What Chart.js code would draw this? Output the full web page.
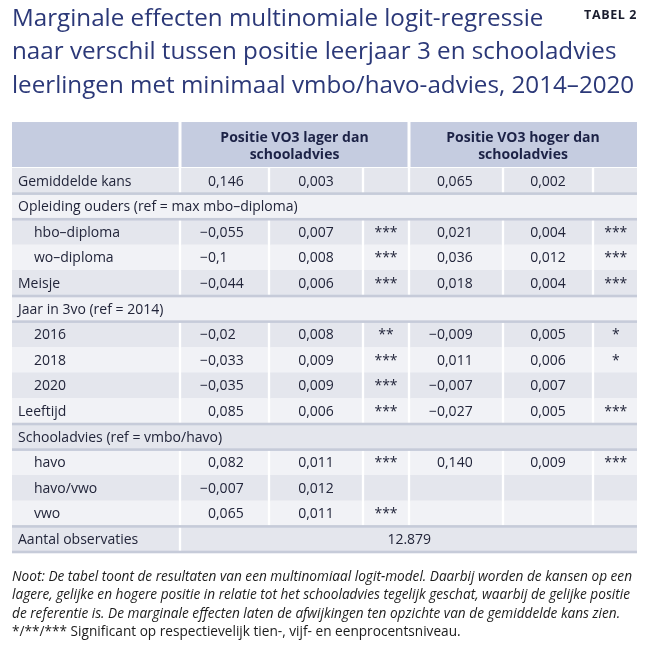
<!DOCTYPE html>
<html>
<head>
<meta charset="utf-8">
<script src="https://cdn.jsdelivr.net/npm/chart.js@4.4.1/dist/chart.umd.min.js"></script>
<style>
html,body{margin:0;padding:0;background:#fff;}
#wrap{width:650px;height:650px;position:relative;}
</style>
</head>
<body>
<div id="wrap"><canvas id="c"></canvas></div>
<script>
// ---------- text & data ----------
const titleLines = [
  'Marginale effecten multinomiale logit-regressie',
  'naar verschil tussen positie leerjaar 3 en schooladvies',
  'leerlingen met minimaal vmbo/havo-advies, 2014–2020'
];
const tableTag = 'TABEL 2';
const headerLower = ['Positie VO3 lager dan', 'schooladvies'];
const headerHigher = ['Positie VO3 hoger dan', 'schooladvies'];

const rowLabels = [
  'Gemiddelde kans',
  'Opleiding ouders (ref = max mbo–diploma)',
  'hbo–diploma',
  'wo–diploma',
  'Meisje',
  'Jaar in 3vo (ref = 2014)',
  '2016',
  '2018',
  '2020',
  'Leeftijd',
  'Schooladvies (ref = vmbo/havo)',
  'havo',
  'havo/vwo',
  'vwo',
  'Aantal observaties'
];
const rowKinds = ['item','group','sub','sub','item','group','sub','sub','sub','item','group','sub','sub','sub','total'];

const lagerEffect = ['0,146', null, '−0,055', '−0,1', '−0,044', null, '−0,02', '−0,033', '−0,035', '0,085', null, '0,082', '−0,007', '0,065', null];
const lagerSE     = ['0,003', null, '0,007', '0,008', '0,006', null, '0,008', '0,009', '0,009', '0,006', null, '0,011', '0,012', '0,011', null];
const lagerSig    = ['', null, '***', '***', '***', null, '**', '***', '***', '***', null, '***', '', '***', null];
const hogerEffect = ['0,065', null, '0,021', '0,036', '0,018', null, '−0,009', '0,011', '−0,007', '−0,027', null, '0,140', '', '', null];
const hogerSE     = ['0,002', null, '0,004', '0,012', '0,004', null, '0,005', '0,006', '0,007', '0,005', null, '0,009', '', '', null];
const hogerSig    = ['', null, '***', '***', '***', null, '*', '*', '', '***', null, '***', '', '', null];
const observations = '12.879';

const footnoteLines = [
  'Noot: De tabel toont de resultaten van een multinomiaal logit-model. Daarbij worden de kansen op een',
  'lagere, gelijke en hogere positie in relatie tot het schooladvies tegelijk geschat, waarbij de gelijke positie',
  'de referentie is. De marginale effecten laten de afwijkingen ten opzichte van de gemiddelde kans zien.',
  '*/**/*** Significant op respectievelijk tien-, vijf- en eenprocentsniveau.'
];

// ---------- layout & style (table units along x: 0..625) ----------
const TABLE_W = 625;
const COL_EDGES = [0, 168, 257, 351, 397, 491, 581, 625];
const GAP = 1.5;
const FONT = '"Open Sans", "DejaVu Sans", sans-serif';
const C_TITLE = '#2b3878';
const C_TEXT = '#22253a';
const C_HEAD_TEXT = '#1c2246';
const C_HEAD_BG = '#c5cce0';
const C_DARK = '#e4e6ed';
const C_LIGHT = '#f1f2f6';
const C_RULE = '#c6cbd9';

function cellRange(c) {
  return [COL_EDGES[c] + (c > 0 ? GAP : 0), COL_EDGES[c + 1] - (c < 6 ? GAP : 0)];
}
function cellFor(c, i) {
  const k = rowKinds[i];
  if (k === 'group') return c === 0 ? [0, TABLE_W] : null;
  if (k === 'total') {
    if (c === 0) return cellRange(0);
    if (c === 1) return [COL_EDGES[1] + GAP, TABLE_W];
    return null;
  }
  return cellRange(c);
}
const rowFill = rowLabels.map((_, i) => (i % 2 === 0 ? C_DARK : C_LIGHT));

const datasets = [0,1,2,3,4,5,6].map(c => ({
  label: 'col' + c,
  data: rowLabels.map((_, i) => cellFor(c, i)),
  backgroundColor: rowFill,
  borderWidth: 0,
  barPercentage: 1,
  categoryPercentage: 1,
  grouped: false
}));

// ---------- plugin drawing header, rules and cell texts ----------
const tablePlugin = {
  id: 'tableText',
  beforeDatasetsDraw(chart) {
    const {ctx, chartArea, scales: {x}} = chart;
    const top = chartArea.top;
    const px = v => x.getPixelForValue(v);
    ctx.save();
    ctx.fillStyle = C_HEAD_BG;
    const hTop = top - 46, hH = 45;
    [[0, COL_EDGES[1] - GAP], [COL_EDGES[1] + GAP, COL_EDGES[4] - GAP], [COL_EDGES[4] + GAP, TABLE_W]].forEach(([a, b]) => {
      ctx.fillRect(px(a), hTop, px(b) - px(a), hH);
    });
    ctx.fillStyle = C_HEAD_TEXT;
    ctx.font = 'bold 14px ' + FONT;
    ctx.textAlign = 'center';
    ctx.textBaseline = 'middle';
    const g1 = (px(COL_EDGES[1]) + px(COL_EDGES[4])) / 2;
    const g2 = (px(COL_EDGES[4]) + px(TABLE_W)) / 2;
    headerLower.forEach((t, k) => ctx.fillText(t, g1, hTop + 15.5 + k * 17));
    headerHigher.forEach((t, k) => ctx.fillText(t, g2, hTop + 15.5 + k * 17));
    ctx.restore();
  },
  afterDatasetsDraw(chart) {
    const {ctx, scales: {x, y}} = chart;
    const px = v => x.getPixelForValue(v);
    const rowH = y.getPixelForValue(1) - y.getPixelForValue(0);
    ctx.save();
    // rules around group rows and total row
    ctx.fillStyle = C_RULE;
    const ruleAt = yy => ctx.fillRect(px(0), yy - 1.3, px(TABLE_W) - px(0), 2.6);
    for (let i = 1; i < rowLabels.length; i++) {
      if (rowKinds[i] === 'group' || rowKinds[i - 1] === 'group' || rowKinds[i] === 'total') {
        ruleAt(y.getPixelForValue(i) - rowH / 2);
      }
    }
    ruleAt(y.getPixelForValue(rowLabels.length - 1) + rowH / 2);

    ctx.fillStyle = C_TEXT;
    ctx.font = '14px ' + FONT;
    ctx.textBaseline = 'middle';
    const center = c => (px(cellRange(c)[0]) + px(cellRange(c)[1])) / 2;
    const decimal = (txt, commaUnit, yy) => {
      if (!txt) return;
      const idx = txt.indexOf(',');
      ctx.textAlign = 'right';
      ctx.fillText(txt.slice(0, idx), px(commaUnit), yy);
      ctx.textAlign = 'left';
      ctx.fillText(txt.slice(idx), px(commaUnit), yy);
    };
    const centered = (txt, xx, yy) => {
      if (!txt) return;
      ctx.textAlign = 'center';
      ctx.fillText(txt, xx, yy);
    };
    rowLabels.forEach((lab, i) => {
      const yy = y.getPixelForValue(i) + 0.8;
      ctx.textAlign = 'left';
      ctx.fillText(lab, px(rowKinds[i] === 'sub' ? 22 : 6), yy);
      if (rowKinds[i] === 'total') {
        centered(observations, (px(COL_EDGES[1] + GAP) + px(TABLE_W)) / 2, yy);
        return;
      }
      decimal(lagerEffect[i], 204, yy);
      centered(lagerSE[i], center(2), yy);
      centered(lagerSig[i], center(3), yy);
      decimal(hogerEffect[i], 433, yy);
      centered(hogerSE[i], center(5), yy);
      centered(hogerSig[i], center(6), yy);
    });
    ctx.restore();
  },
  afterDraw(chart) {
    const {ctx} = chart;
    ctx.save();
    // table tag
    ctx.fillStyle = '#1a1d2e';
    ctx.font = 'bold 12.5px ' + FONT;
    ctx.textAlign = 'right';
    ctx.textBaseline = 'alphabetic';
    if ('letterSpacing' in ctx) ctx.letterSpacing = '0.6px';
    ctx.fillText(tableTag, 637, 19);
    if ('letterSpacing' in ctx) ctx.letterSpacing = '0px';
    // footnote
    ctx.fillStyle = '#1b1b1b';
    ctx.textAlign = 'left';
    ctx.font = 'italic 14px ' + FONT;
    const sx = 620 / ctx.measureText(footnoteLines[0]).width;
    footnoteLines.forEach((t, k) => {
      ctx.font = (k === 3 ? 'normal ' : 'italic ') + '14px ' + FONT;
      ctx.save();
      ctx.translate(12, 581 + k * 18.3);
      ctx.scale(sx, 1);
      ctx.fillText(t, 0, 0);
      ctx.restore();
    });
    ctx.restore();
  }
};

new Chart(document.getElementById('c'), {
  type: 'bar',
  data: { labels: rowLabels, datasets },
  options: {
    indexAxis: 'y',
    responsive: true,
    maintainAspectRatio: false,
    animation: false,
    layout: { padding: { left: 12, right: 13, top: 0, bottom: 98 } },
    scales: {
      x: { type: 'linear', min: 0, max: TABLE_W, display: false },
      y: { type: 'category', display: false, offset: true }
    },
    plugins: {
      legend: { display: false },
      tooltip: { enabled: false },
      title: {
        display: true,
        text: titleLines,
        align: 'start',
        color: C_TITLE,
        font: { family: FONT, size: 24.2, weight: 'normal', lineHeight: 1.393 },
        padding: { top: 2, bottom: 64.9 }
      }
    }
  },
  plugins: [tablePlugin]
});
</script>
</body>
</html>
